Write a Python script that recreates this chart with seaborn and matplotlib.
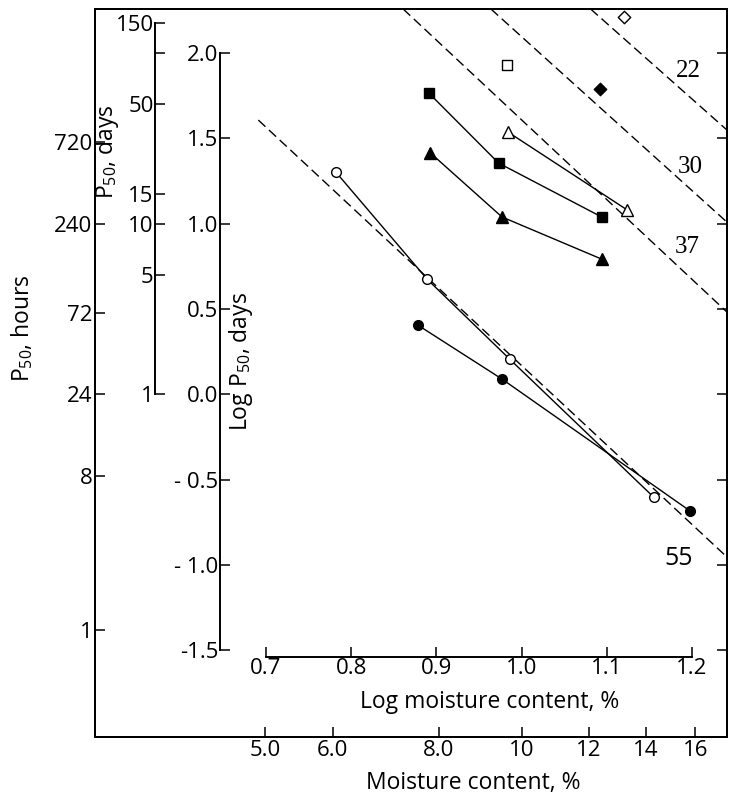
import numpy as np
import matplotlib
matplotlib.use("Agg")
import matplotlib.pyplot as plt
import seaborn as sns

sns.set_theme(style="white")
plt.rcParams["font.family"] = ["Open Sans", "DejaVu Sans"]
plt.rcParams["mathtext.fontset"] = "custom"
plt.rcParams["mathtext.rm"] = "Open Sans"
plt.rcParams["mathtext.it"] = "Open Sans:italic"
plt.rcParams["axes.edgecolor"] = "black"
plt.rcParams["axes.linewidth"] = 1.4
plt.rcParams["text.color"] = "black"
plt.rcParams["xtick.color"] = "black"
plt.rcParams["ytick.color"] = "black"

# Observed series: log10 moisture content (%) vs log10 P50 (days)
open_circle_x = [0.782, 0.889, 0.986, 1.155]
open_circle_y = [1.302, 0.675, 0.206, -0.603]
filled_circle_x = [0.878, 0.977, 1.198]
filled_circle_y = [0.406, 0.089, -0.685]
filled_triangle_x = [0.893, 0.977, 1.094]
filled_triangle_y = [1.414, 1.039, 0.792]
filled_square_x = [0.891, 0.973, 1.094]
filled_square_y = [1.766, 1.355, 1.039]
open_triangle_x = [0.984, 1.124]
open_triangle_y = [1.537, 1.080]
open_square_x = [0.983]
open_square_y = [1.930]
filled_diamond_x = [1.092]
filled_diamond_y = [1.789]
open_diamond_x = [1.120]
open_diamond_y = [2.211]

# Predicted isotherms (deg C), end points in the same log-log space
isotherm_temps = ["22", "30", "37", "55"]
isotherm_x = [[1.081, 1.241], [0.964, 1.241], [0.861, 1.241], [0.691, 1.241]]
isotherm_y = [[2.258, 1.549], [2.258, 1.009], [2.258, 0.482], [1.607, -0.954]]
isotherm_label_x = [1.196, 1.198, 1.195, 1.184]
isotherm_label_y = [1.894, 1.332, 0.863, -0.960]

# Axis scales
log_p50_ticks = [2.0, 1.5, 1.0, 0.5, 0.0, -0.5, -1.0, -1.5]
log_p50_labels = ["2.0", "1.5", "1.0", "0.5", "0.0", "- 0.5", "- 1.0", "-1.5"]
log_mc_ticks = [0.7, 0.8, 0.9, 1.0, 1.1, 1.2]
log_mc_labels = ["0.7", "0.8", "0.9", "1.0", "1.1", "1.2"]
hours_ticks = [720, 240, 72, 24, 8, 1]
hours_labels = ["720", "240", "72", "24", "8", "1"]
days_ticks = [150, 100, 50, 15, 10, 5, 1]
days_labels = ["150", "", "50", "15", "10", "5", "1"]
mc_ticks = [5.0, 6.0, 8.0, 10, 12, 14, 16]
mc_labels = ["5.0", "6.0", "8.0", "10", "12", "14", "16"]

W, H = 729, 799
fig = plt.figure(figsize=(W / 100, H / 100), dpi=100)


def px_rect(x0, y0, x1, y1):
    return [x0 / W, 1 - y1 / H, (x1 - x0) / W, (y1 - y0) / H]


RECT = px_rect(95, 9, 727, 737)
XLIM = (0.4993, 1.2411)
YLIM = (-2.009, 2.258)
TICK_FS = 16
LABEL_FS = 16.5

# Outer frame: P50 in hours (left) and moisture content in % (bottom)
ax = fig.add_axes(RECT)
ax.set_xlim(XLIM)
ax.set_ylim(YLIM)
ax.set_yticks(np.log10(np.array(hours_ticks, dtype=float) / 24.0))
ax.set_yticklabels(hours_labels)
ax.set_xticks(np.log10(np.array(mc_ticks, dtype=float)))
ax.set_xticklabels(mc_labels)
ax.tick_params(direction="in", length=7, width=1.1, labelsize=TICK_FS, pad=2,
               left=True, bottom=True)
ax.grid(False)

# Right-hand ticks of the frame follow the log P50 scale
ax_r = ax.twinx()
ax_r.set_ylim(YLIM)
ax_r.set_yticks(log_p50_ticks)
ax_r.tick_params(direction="in", length=7, width=1.1, right=True, labelright=False)
ax_r.grid(False)

# P50 in days
ax_d = fig.add_axes(RECT, facecolor="none")
ax_d.set_xlim(XLIM)
ax_d.set_ylim(YLIM)
for s in ["top", "right", "bottom"]:
    ax_d.spines[s].set_visible(False)
ax_d.spines["left"].set_position(("data", 0.5697))
ax_d.spines["left"].set_bounds(0.0, np.log10(150))
ax_d.set_yticks(np.log10(np.array(days_ticks, dtype=float)))
ax_d.set_yticklabels(days_labels)
ax_d.set_xticks([])
ax_d.tick_params(axis="y", direction="in", length=7, width=1.1, labelsize=TICK_FS,
                 pad=1, left=True)
ax_d.grid(False)

# Inner log-log axes carrying the data
ax_in = fig.add_axes(RECT, facecolor="none")
ax_in.set_xlim(XLIM)
ax_in.set_ylim(YLIM)
for s in ["top", "right"]:
    ax_in.spines[s].set_visible(False)
ax_in.spines["left"].set_position(("data", 0.646))
ax_in.spines["left"].set_bounds(-1.5, 2.0)
ax_in.spines["bottom"].set_position(("data", -1.540))
ax_in.spines["bottom"].set_bounds(0.7, 1.2)
ax_in.set_yticks(log_p50_ticks)
ax_in.set_yticklabels(log_p50_labels)
ax_in.set_xticks(log_mc_ticks)
ax_in.set_xticklabels(log_mc_labels)
ax_in.tick_params(direction="in", length=7, width=1.1, labelsize=TICK_FS, pad=1,
                  left=True, bottom=True)
ax_in.grid(False)

# Isotherms
for xs, ys in zip(isotherm_x, isotherm_y):
    sns.lineplot(x=xs, y=ys, ax=ax_in, color="black", lw=1.0,
                 linestyle=(0, (7, 3.5)), sort=False, estimator=None)

label_fonts = [["Liberation Serif"], ["Liberation Serif"], ["Liberation Serif"], ["Open Sans"]]
for t, lx, ly, fam in zip(isotherm_temps, isotherm_label_x, isotherm_label_y, label_fonts):
    ax_in.text(lx, ly, t, fontsize=18, family=fam, ha="center", va="center")


def joined(xs, ys, marker, filled, ms=7):
    sns.lineplot(x=xs, y=ys, ax=ax_in, color="black", lw=1.0, marker=marker,
                 markersize=ms, markerfacecolor="black" if filled else "white",
                 markeredgecolor="black", markeredgewidth=1.0,
                 sort=False, estimator=None)


joined(open_circle_x, open_circle_y, "o", False)
joined(filled_circle_x, filled_circle_y, "o", True)
joined(filled_triangle_x, filled_triangle_y, "^", True, ms=8)
joined(filled_square_x, filled_square_y, "s", True, ms=6.5)
joined(open_triangle_x, open_triangle_y, "^", False, ms=8)


def single(xs, ys, marker, filled, s=45):
    sns.scatterplot(x=xs, y=ys, ax=ax_in, marker=marker, s=s,
                    color="black" if filled else "white", edgecolor="black",
                    linewidth=1.0, zorder=5)


single(open_square_x, open_square_y, "s", False, s=50)
single(filled_diamond_x, filled_diamond_y, "D", True, s=40)
single(open_diamond_x, open_diamond_y, "D", False, s=40)

# Axis titles
fig.text(22 / W, 1 - 328 / H, r"P$_{50}$, hours", rotation=90, ha="center",
         va="center", fontsize=LABEL_FS)
fig.text(107 / W, 1 - 152 / H, r"P$_{50}$, days", rotation=90, ha="center",
         va="center", fontsize=LABEL_FS)
fig.text(241 / W, 1 - 362 / H, r"Log P$_{50}$, days", rotation=90, ha="center",
         va="center", fontsize=LABEL_FS)
fig.text(490 / W, 1 - 702 / H, "Log moisture content, %", ha="center",
         va="center", fontsize=LABEL_FS)
fig.text(473 / W, 1 - 783 / H, "Moisture content, %", ha="center",
         va="center", fontsize=LABEL_FS)

fig.savefig("out.png", dpi=100)
